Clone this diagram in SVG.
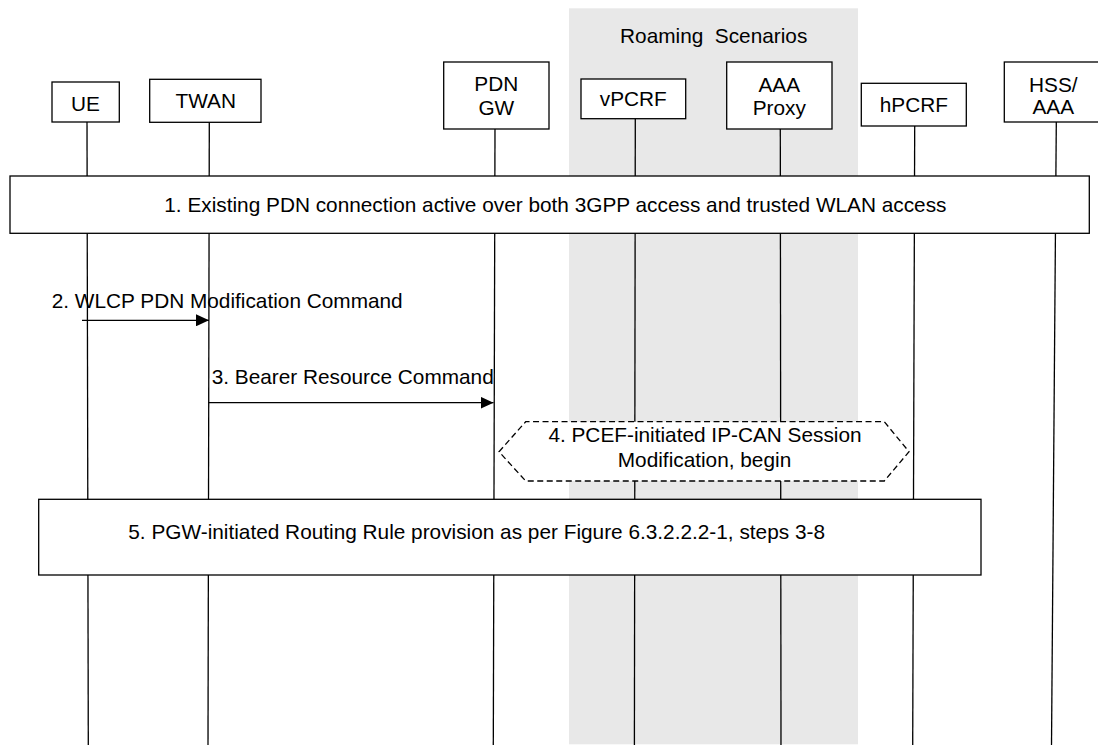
<svg xmlns="http://www.w3.org/2000/svg" width="1098" height="745" viewBox="0 0 1098 745">
<defs>
<style>
text{font-family:"Liberation Sans",Arial,sans-serif;font-size:20.8px;fill:#000}
.box{fill:#fff;stroke:#000;stroke-width:1.3}
.life{stroke:#000;stroke-width:1.3;fill:none}
.msg{stroke:#000;stroke-width:1.3;fill:none;marker-end:url(#ah)}
.c{text-anchor:middle}
</style>
<marker id="ah" viewBox="0 0 13 12" refX="13" refY="6" markerWidth="13" markerHeight="12" markerUnits="userSpaceOnUse" orient="auto">
<path d="M0,0 L13,6 L0,12 Z" fill="#000"/>
</marker>
</defs>
<rect id="roaming" x="569" y="8.3" width="289" height="736" fill="#e8e8e8"/>
<text class="c" x="713.7" y="43.3" xml:space="preserve">Roaming  Scenarios</text>
<g id="lifelines">
<line class="life" x1="87" y1="122" x2="88.3" y2="745"/>
<line class="life" x1="209.3" y1="122" x2="208" y2="745"/>
<line class="life" x1="495" y1="129" x2="493.3" y2="745"/>
<line class="life" x1="635.3" y1="118.7" x2="634.4" y2="745"/>
<line class="life" x1="780.3" y1="129" x2="781" y2="745"/>
<line class="life" x1="914.7" y1="126" x2="912.7" y2="745"/>
<line class="life" x1="1056.3" y1="122" x2="1051.5" y2="745"/>
</g>
<g id="UE"><rect class="box" x="52" y="82" width="67.3" height="40"/><text class="c" x="85.5" y="110.7">UE</text></g>
<g id="TWAN"><rect class="box" x="149.7" y="79.3" width="111.3" height="43"/><text class="c" x="205.8" y="108.3">TWAN</text></g>
<g id="PDNGW"><rect class="box" x="443.7" y="62" width="105.3" height="67"/><text class="c" x="496.3" y="90.7">PDN</text><text class="c" x="496.3" y="115">GW</text></g>
<g id="vPCRF"><rect class="box" x="581" y="79" width="104.7" height="39.7"/><text class="c" x="633.3" y="105.7">vPCRF</text></g>
<g id="AAAProxy"><rect class="box" x="726.7" y="62" width="105.3" height="67"/><text class="c" x="779.3" y="91.7">AAA</text><text class="c" x="779.3" y="115">Proxy</text></g>
<g id="hPCRF"><rect class="box" x="861.3" y="83.3" width="105" height="42.7"/><text class="c" x="913.8" y="111.7">hPCRF</text></g>
<g id="HSSAAA"><rect class="box" x="1004.3" y="62" width="100" height="60"/><text class="c" x="1053.3" y="91.7">HSS/</text><text class="c" x="1053.3" y="114">AAA</text></g>
<g id="step1"><rect class="box" x="10" y="176" width="1079.3" height="57.3"/><text x="164.3" y="211.7">1. Existing PDN connection active over both 3GPP access and trusted WLAN access</text></g>
<g id="step4"><polygon points="499,451.7 525.7,421.7 884.3,421.7 909,451.7 884.3,481 525.7,481" fill="#fff" stroke="#000" stroke-width="1.3" stroke-dasharray="6 3.5"/><text class="c" x="705" y="442.3">4. PCEF-initiated IP-CAN Session</text><text class="c" x="704.5" y="466.7">Modification, begin</text></g>
<g id="step5"><rect class="box" x="38.7" y="499.3" width="942.3" height="75.7"/><text x="128.3" y="539.3">5. PGW-initiated Routing Rule provision as per Figure 6.3.2.2.2-1, steps 3-8</text></g>
<g id="connectors">
<line class="msg" x1="82" y1="320.3" x2="209" y2="320.3"/>
<text x="51.7" y="308">2. WLCP PDN Modification Command</text>
<line class="msg" x1="208.5" y1="402.7" x2="493.5" y2="402.7"/>
<text x="211.7" y="384">3. Bearer Resource Command</text>
</g>
</svg>
